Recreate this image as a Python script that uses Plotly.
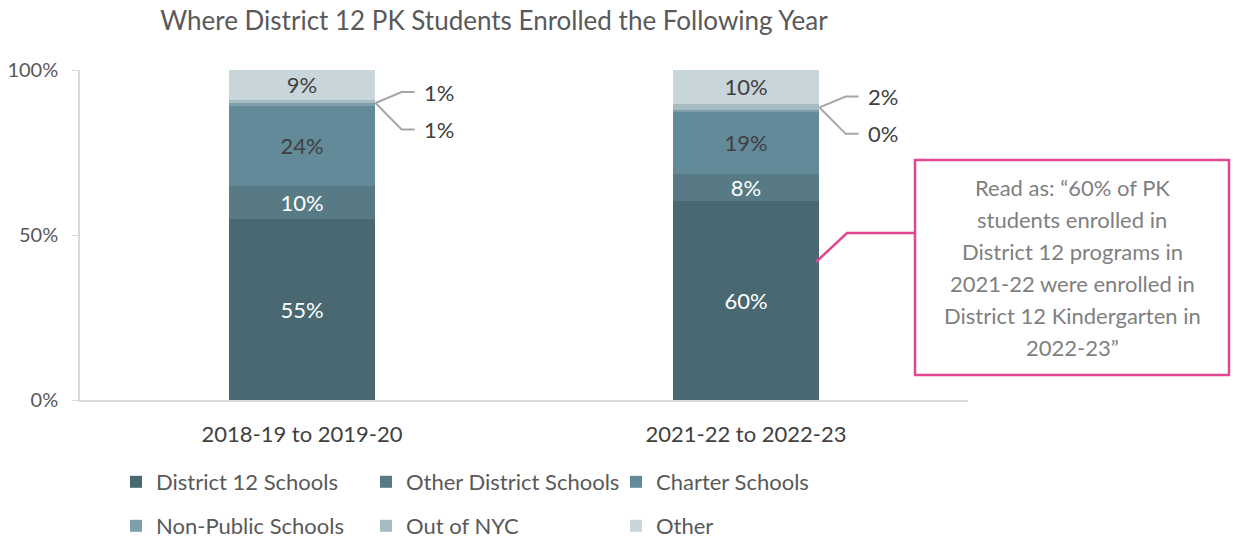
import plotly.graph_objects as go

categories = ["2018-19 to 2019-20", "2021-22 to 2022-23"]
series_names = ["District 12 Schools", "Other District Schools", "Charter Schools",
                "Non-Public Schools", "Out of NYC", "Other"]
district12 = [55, 60.2]
other_district = [10, 8.3]
charter = [24, 19.0]
non_public = [1, 0.4]
out_of_nyc = [1, 1.9]
other = [9, 10.2]
series_values = [district12, other_district, charter, non_public, out_of_nyc, other]
y_ticks = [0, 50, 100]
y_tick_labels = ["0%", "50%", "100%"]
callout_lines = ["Read as: \u201c60% of PK", "students enrolled in", "District 12 programs in",
                 "2021-22 were enrolled in", "District 12 Kindergarten in", "2022-23\u201d"]

colors = ["#4A6872", "#577A85", "#628A99", "#7E9EA9", "#A7BBC2", "#C8D5DA"]
text_colors = ["#FFFFFF", "#FFFFFF", "#404040", None, None, "#404040"]
FONT = "Lato"
xpos = list(range(len(categories)))
BAR_W = 0.331

W, H = 1236, 539

fig = go.Figure()
for i, (name, vals) in enumerate(zip(series_names, series_values)):
    inside = text_colors[i] is not None
    fig.add_trace(go.Bar(
        x=xpos, y=vals, name=name, width=BAR_W,
        marker=dict(color=colors[i], line=dict(width=0)),
        text=[f"{v:.0f}%" for v in vals] if inside else None,
        textposition="inside" if inside else "none",
        insidetextanchor="middle", textangle=0, constraintext="none",
        textfont=dict(family=FONT, size=22, color=text_colors[i] or "#404040"),
        legend="legend" if i < 3 else "legend2",
        hoverinfo="skip",
    ))

# Leader-line labels for the thin segments
shapes = []
annotations = []
for j in xpos:
    base = district12[j] + other_district[j] + charter[j]
    start_y = base + (non_public[j] + out_of_nyc[j]) / 2
    x0 = j + BAR_W / 2
    xe, xh, xl = x0 + 0.059, x0 + 0.088, x0 + 0.105
    for val, dy in ((out_of_nyc[j], 3.3), (non_public[j], -8.0)):
        yy = start_y + dy
        shapes.append(dict(type="path", xref="x", yref="y",
                           path=f"M{x0},{start_y} L{xe},{yy} L{xh},{yy}",
                           line=dict(color="#A6A6A6", width=2)))
        annotations.append(dict(x=xl, y=yy, xref="x", yref="y", text=f"{val:.0f}%",
                                showarrow=False, xanchor="left", yanchor="middle",
                                font=dict(family=FONT, size=22, color="#404040")))

# Callout box (positions given in page pixels of the reference)
def px_to_paper_x(px):
    return (px - 80) / 888
def px_to_paper_y(py):
    return (400 - py) / 330

pink = "#E2468F"
shapes.append(dict(type="rect", xref="paper", yref="paper",
                   x0=px_to_paper_x(915), x1=px_to_paper_x(1229),
                   y0=px_to_paper_y(375), y1=px_to_paper_y(160),
                   line=dict(color=pink, width=2.5), fillcolor="rgba(0,0,0,0)"))
shapes.append(dict(type="path", xref="paper", yref="paper",
                   path=(f"M{px_to_paper_x(916)},{px_to_paper_y(233)} "
                         f"L{px_to_paper_x(847)},{px_to_paper_y(233)} "
                         f"L{px_to_paper_x(816)},{px_to_paper_y(262)}"),
                   line=dict(color=pink, width=2.5)))
for k, line in enumerate(callout_lines):
    annotations.append(dict(x=px_to_paper_x(1072), y=px_to_paper_y(187 + 32 * k),
                            xref="paper", yref="paper", text=line, showarrow=False,
                            xanchor="center", yanchor="middle",
                            font=dict(family=FONT, size=22, color="#7F7F7F")))

legend_common = dict(orientation="h", xanchor="left", yanchor="middle", traceorder="normal",
                     entrywidth=205, entrywidthmode="pixels",
                     font=dict(family=FONT, size=22, color="#595959"),
                     bgcolor="rgba(0,0,0,0)")

fig.update_layout(
    width=W, height=H,
    margin=dict(l=80, r=268, t=70, b=139, autoexpand=False),
    barmode="stack",
    paper_bgcolor="white", plot_bgcolor="white",
    title=dict(text="Where District 12 PK Students Enrolled the Following Year",
               x=494 / W, xref="container", xanchor="center",
               y=1 - 21 / H, yref="container", yanchor="middle",
               font=dict(family=FONT, size=26, color="#595959")),
    xaxis=dict(range=[-0.5, 1.5], tickvals=xpos, ticktext=categories,
               showgrid=False, zeroline=False, showline=True, linecolor="#D9D9D9",
               linewidth=1.5, ticks="", ticklabelstandoff=14,
               tickfont=dict(family=FONT, size=22, color="#404040"),
               fixedrange=True),
    yaxis=dict(range=[0, 100], tickvals=y_ticks, ticktext=y_tick_labels,
               showgrid=False, zeroline=False, showline=True, linecolor="#D9D9D9",
               linewidth=1.5, ticks="outside", ticklen=6, tickcolor="#D9D9D9",
               ticklabelstandoff=10,
               tickfont=dict(family=FONT, size=20, color="#595959"), fixedrange=True),
    legend=dict(x=px_to_paper_x(116), y=px_to_paper_y(482), **legend_common),
    legend2=dict(x=px_to_paper_x(116), y=px_to_paper_y(526), **legend_common),
    shapes=shapes,
    annotations=annotations,
    showlegend=True,
)

fig.write_html("out.html", config={"displayModeBar": False},
               post_script="document.body.style.margin='0px';document.body.style.overflow='hidden';")
